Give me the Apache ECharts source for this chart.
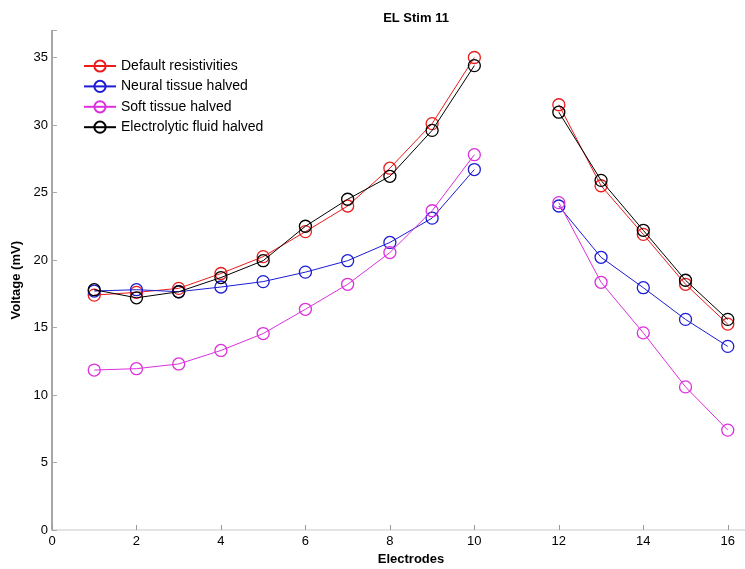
<!DOCTYPE html>
<html>
<head>
<meta charset="utf-8">
<script src="https://cdn.jsdelivr.net/npm/echarts@6/dist/echarts.min.js"></script>
<style>html,body{margin:0;padding:0;background:#fff}#c{width:745px;height:569px}</style>
</head>
<body>
<div id="c"></div>
<script>
const electrodes = [1,2,3,4,5,6,7,8,9,10,11,12,13,14,15,16];
const seriesNames = ['Default resistivities','Neural tissue halved','Soft tissue halved','Electrolytic fluid halved'];
const defaultRes   = [17.4,17.6,17.9,19.0,20.25,22.1,24.0,26.8,30.1,35.0,null,31.5,25.5,21.9,18.2,15.25];
const neuralHalved = [17.7,17.8,17.65,18.0,18.4,19.1,19.95,21.3,23.1,26.7,null,24.0,20.2,17.95,15.6,13.6];
const softHalved   = [11.85,11.95,12.3,13.3,14.55,16.35,18.2,20.55,23.65,27.8,null,24.25,18.35,14.6,10.6,7.4];
const fluidHalved  = [17.8,17.2,17.65,18.7,19.95,22.5,24.5,26.2,29.6,34.4,null,30.95,25.9,22.2,18.5,15.6];
const colors = ['#ea1c1c','#1c1cd4','#dc30dc','#000000'];
const title = 'EL Stim 11';
const xName = 'Electrodes';
const yName = 'Voltage (mV)';

const allValues = [defaultRes, neuralHalved, softHalved, fluidHalved];
const font = 'Liberation Sans, Arial, sans-serif';

const chart = echarts.init(document.getElementById('c'), null, {renderer:'canvas'});
chart.setOption({
  animation: false,
  backgroundColor: '#fff',
  title: {
    text: title, left: 411, top: 7, textAlign: 'center',
    textStyle: {fontFamily: font, fontWeight: 'bold', fontSize: 13, color: '#000'}
  },
  legend: {
    orient: 'vertical', left: 78, top: 54,
    itemWidth: 32, itemHeight: 14, itemGap: 6.4,
    textStyle: {fontFamily: font, fontSize: 14, color: '#000'},
    data: seriesNames
  },
  grid: {left: 52, top: 30.5, width: 718, height: 499.5, containLabel: false, outerBoundsMode: 'none'},
  xAxis: {
    type: 'value', min: 0, max: 17, interval: 2,
    name: xName, nameLocation: 'middle', nameGap: 22,
    nameTextStyle: {fontFamily: font, fontWeight: 'bold', fontSize: 13, color: '#000'},
    axisLine: {lineStyle: {color: '#dcdcdc', width: 1.5}},
    axisTick: {inside: true, length: 5, lineStyle: {color: '#999'}},
    axisLabel: {fontFamily: font, fontSize: 13, color: '#000', margin: 5,
      formatter: v => (v % 2 === 0 && v <= 16) ? String(v) : ''},
    splitLine: {show: false}
  },
  yAxis: {
    type: 'value', min: 0, max: 37, interval: 5,
    name: yName, nameLocation: 'middle', nameGap: 25,
    nameTextStyle: {fontFamily: font, fontWeight: 'bold', fontSize: 13, color: '#000'},
    axisLine: {show: true, lineStyle: {color: '#8a8a8a', width: 1.5}},
    axisTick: {show: true, inside: true, length: 5, lineStyle: {color: '#aaa'}},
    axisLabel: {fontFamily: font, fontSize: 13, color: '#000', margin: 4,
      formatter: v => (v % 5 === 0 && v <= 35) ? String(v) : ''},
    splitLine: {show: false}
  },
  series: seriesNames.map((n, i) => ({
    name: n, type: 'line',
    data: electrodes.map((e, j) => [e, allValues[i][j]]),
    connectNulls: false,
    symbol: 'circle', symbolSize: 12,
    lineStyle: {color: colors[i], width: 1},
    itemStyle: {color: 'rgba(255,255,255,0)', borderColor: colors[i], borderWidth: 1.3},
    emphasis: {disabled: true},
    z: 2 + i
  }))
});
</script>
</body>
</html>
